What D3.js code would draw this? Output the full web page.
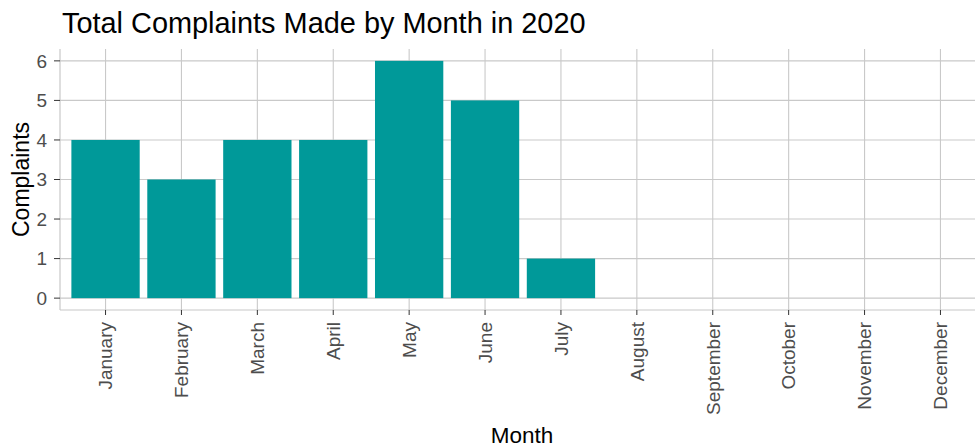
<!DOCTYPE html>
<html>
<head>
<meta charset="utf-8">
<script src="https://cdn.jsdelivr.net/npm/d3@7"></script>
<style>
  body { margin: 0; background: #fff; }
  text { font-family: "Liberation Sans", Arial, sans-serif; }
</style>
</head>
<body>
<svg id="chart" width="975" height="447"></svg>
<script>
const months = ["January", "February", "March", "April", "May", "June",
  "July", "August", "September", "October", "November", "December"];
const complaints = [4, 3, 4, 4, 6, 5, 1, 0, 0, 0, 0, 0];
const yTicks = [0, 1, 2, 3, 4, 5, 6];

const svg = d3.select("#chart");
const panel = { left: 60, right: 986, top: 49, bottom: 310 };

// discrete scale, 0.6 unit expansion on each side like ggplot
const x = d3.scaleBand()
  .domain(months)
  .range([panel.left, panel.right])
  .paddingInner(0.1)
  .paddingOuter(0.15);

const y = d3.scaleLinear()
  .domain([-0.3, 6.3])
  .range([panel.bottom, panel.top]);

const cx = d => x(d) + x.bandwidth() / 2;
const grid = "#c9c9c9";

// grid lines
svg.append("g").selectAll("line")
  .data(yTicks)
  .join("line")
  .attr("x1", panel.left).attr("x2", panel.right)
  .attr("y1", d => y(d)).attr("y2", d => y(d))
  .attr("stroke", grid).attr("stroke-width", 1.1);

svg.append("g").selectAll("line")
  .data(months)
  .join("line")
  .attr("x1", cx).attr("x2", cx)
  .attr("y1", panel.top).attr("y2", panel.bottom)
  .attr("stroke", grid).attr("stroke-width", 1.1);

// bars
svg.append("g").selectAll("rect")
  .data(months.map((m, i) => ({ m, v: complaints[i] })).filter(d => d.v > 0))
  .join("rect")
  .attr("x", d => x(d.m))
  .attr("width", x.bandwidth())
  .attr("y", d => y(d.v))
  .attr("height", d => y(0) - y(d.v))
  .attr("fill", "#009999");

// axis lines
svg.append("line")
  .attr("x1", panel.left).attr("x2", panel.left)
  .attr("y1", panel.top).attr("y2", panel.bottom)
  .attr("stroke", "#c8c8c8").attr("stroke-width", 1.2);
svg.append("line")
  .attr("x1", panel.left).attr("x2", panel.right)
  .attr("y1", panel.bottom).attr("y2", panel.bottom)
  .attr("stroke", "#c8c8c8").attr("stroke-width", 1.2);

// y axis ticks + labels
const yAxis = svg.append("g");
yAxis.selectAll("line")
  .data(yTicks)
  .join("line")
  .attr("x1", panel.left - 6).attr("x2", panel.left)
  .attr("y1", d => y(d)).attr("y2", d => y(d))
  .attr("stroke", "#333").attr("stroke-width", 1);
yAxis.selectAll("text")
  .data(yTicks)
  .join("text")
  .attr("x", 47)
  .attr("y", d => y(d))
  .attr("dy", "0.36em")
  .attr("text-anchor", "end")
  .attr("fill", "#4d4d4d")
  .attr("font-size", 19)
  .text(d => d);

// x axis ticks + labels
const xAxis = svg.append("g");
xAxis.selectAll("line")
  .data(months)
  .join("line")
  .attr("x1", cx).attr("x2", cx)
  .attr("y1", panel.bottom).attr("y2", panel.bottom + 5)
  .attr("stroke", "#333").attr("stroke-width", 1);
xAxis.selectAll("text")
  .data(months)
  .join("text")
  .attr("transform", d => `translate(${cx(d)},322) rotate(-90)`)
  .attr("dy", "0.36em")
  .attr("text-anchor", "end")
  .attr("fill", "#4d4d4d")
  .attr("font-size", 19)
  .text(d => d);

// titles
svg.append("text")
  .attr("x", 62).attr("y", 33)
  .attr("font-size", 28.9)
  .attr("fill", "#000")
  .text("Total Complaints Made by Month in 2020");

svg.append("text")
  .attr("transform", `translate(29,${(panel.top + panel.bottom) / 2}) rotate(-90)`)
  .attr("text-anchor", "middle")
  .attr("font-size", 23)
  .attr("fill", "#000")
  .text("Complaints");

svg.append("text")
  .attr("x", 522).attr("y", 443)
  .attr("text-anchor", "middle")
  .attr("font-size", 22.5)
  .attr("fill", "#000")
  .text("Month");
</script>
</body>
</html>
